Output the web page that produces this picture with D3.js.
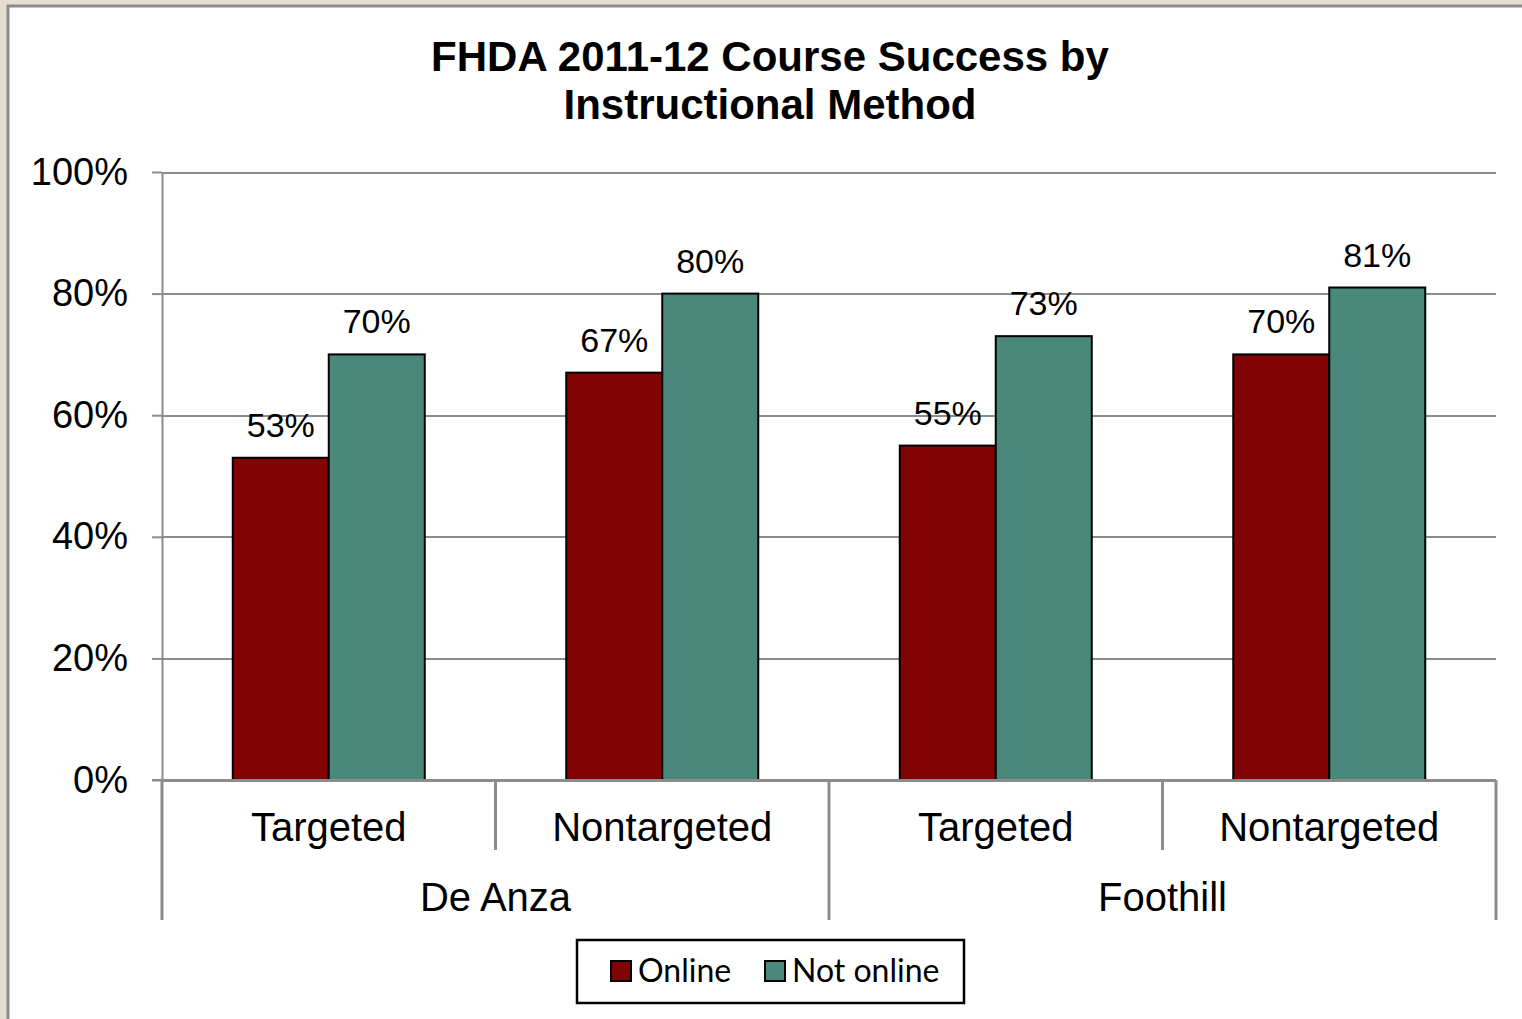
<!DOCTYPE html>
<meta charset="utf-8">
<style>
body { margin: 0; background: #e8ddd2; }
.grid line { stroke: #8c8c8c; stroke-width: 2px; shape-rendering: crispEdges; }
.grid path { stroke-width: 0; }
.yaxis path { stroke: #8c8c8c; stroke-width: 2px; }
.yaxis line { stroke: #8c8c8c; stroke-width: 2px; }
.yaxis text { font: 38px "Liberation Sans", Arial, sans-serif; fill: #000; }
.sep { stroke: #8c8c8c; stroke-width: 3px; }
.lab { font: 34px "Liberation Sans", Arial, sans-serif; fill: #000; }
.cat { font: 40px "Liberation Sans", Arial, sans-serif; fill: #000; }
</style>
<body>
<script src="https://d3js.org/d3.v7.min.js"></script>
<script>

// data
var colleges = ["De Anza", "Foothill"];
var methods = ["Targeted", "Nontargeted"];
var seriesNames = ["Online", "Not online"];
var online = [53, 67, 55, 70];
var notOnline = [70, 80, 73, 81];
var yTicks = [0, 20, 40, 60, 80, 100];
var colors = ["#820303", "#4a887c"];

var W = 1522, H = 1019;
var margin = {top: 172, left: 162, right: 26, bottom: 239};
var width = W - margin.left - margin.right,
    height = H - margin.top - margin.bottom;

var svg = d3.select("body").append("svg")
    .attr("width", W).attr("height", H)
    .style("display", "block");

// chart frame
svg.append("rect")
    .attr("x", 8).attr("y", 6).attr("width", W).attr("height", H)
    .attr("fill", "#fff").attr("stroke", "#8c8c8c").attr("stroke-width", 3);

// title
svg.append("text")
    .attr("x", 770).attr("text-anchor", "middle")
    .style("font", "bold 42px 'Liberation Sans', Arial, sans-serif")
    .selectAll("tspan")
    .data(["FHDA 2011-12 Course Success by", "Instructional Method"])
    .enter().append("tspan")
      .attr("x", 770)
      .attr("y", function(d, i) { return 71 + i * 48; })
      .text(function(d) { return d; });

var g = svg.append("g")
    .attr("transform", "translate(" + margin.left + "," + margin.top + ")");

// x: one band per college/method pair
var cats = [];
colleges.forEach(function(c) { methods.forEach(function(m) { cats.push(c + "|" + m); }); });

var x0 = d3.scaleBand().domain(cats).range([0, width]).paddingInner(0).paddingOuter(0);
var x1 = d3.scaleBand().domain(seriesNames).range([0, x0.bandwidth()]).paddingOuter(0.737).paddingInner(0);
var y = d3.scaleLinear().domain([0, 100]).range([height, 0]);

// gridlines
g.append("g")
    .attr("class", "grid")
    .call(d3.axisLeft(y).tickValues(yTicks).tickSize(-width).tickFormat(""));

// y axis
g.append("g")
    .attr("class", "yaxis")
    .call(d3.axisLeft(y).tickValues(yTicks).tickSize(10).tickSizeOuter(0).tickPadding(24)
        .tickFormat(function(d) { return d + "%"; }));

// bars
var rows = cats.map(function(c, i) { return {cat: c, vals: [online[i], notOnline[i]]}; });

var grp = g.selectAll(".bars")
    .data(rows)
  .enter().append("g")
    .attr("transform", function(d) { return "translate(" + x0(d.cat) + ",0)"; });

grp.selectAll("rect")
    .data(function(d) { return d.vals.map(function(v, j) { return {s: seriesNames[j], v: v, j: j}; }); })
  .enter().append("rect")
    .attr("x", function(d) { return x1(d.s); })
    .attr("y", function(d) { return y(d.v); })
    .attr("width", x1.bandwidth())
    .attr("height", function(d) { return height - y(d.v); })
    .attr("fill", function(d) { return colors[d.j]; })
    .attr("stroke", "#000")
    .attr("stroke-width", 2);

grp.selectAll(".lab")
    .data(function(d) { return d.vals.map(function(v, j) { return {s: seriesNames[j], v: v}; }); })
  .enter().append("text")
    .attr("class", "lab")
    .attr("x", function(d) { return x1(d.s) + x1.bandwidth() / 2; })
    .attr("y", function(d) { return y(d.v) - 21; })
    .attr("text-anchor", "middle")
    .text(function(d) { return d.v + "%"; });

// baseline
g.append("line")
    .attr("class", "sep")
    .attr("x1", -10).attr("x2", width).attr("y1", height).attr("y2", height)
    .style("stroke-width", 2);

// category separators
cats.forEach(function(c, i) {
  var xx = x0(c);
  g.append("line").attr("class", "sep")
      .attr("x1", xx).attr("x2", xx)
      .attr("y1", height).attr("y2", height + (i % methods.length == 0 ? 140 : 70));
});
g.append("line").attr("class", "sep")
    .attr("x1", width).attr("x2", width)
    .attr("y1", height).attr("y2", height + 140);

// method labels
g.selectAll(".cat1")
    .data(cats)
  .enter().append("text")
    .attr("class", "cat")
    .attr("x", function(d) { return x0(d) + x0.bandwidth() / 2; })
    .attr("y", height + 61)
    .attr("text-anchor", "middle")
    .text(function(d) { return d.split("|")[1]; });

// college labels
g.selectAll(".cat2")
    .data(colleges)
  .enter().append("text")
    .attr("class", "cat")
    .attr("x", function(d) { return x0(d + "|" + methods[0]) + x0.bandwidth(); })
    .attr("y", height + 131)
    .attr("text-anchor", "middle")
    .text(function(d) { return d; });

// legend
var leg = svg.append("g").attr("transform", "translate(577,940)");
leg.append("rect")
    .attr("width", 387).attr("height", 63)
    .attr("fill", "#fff").attr("stroke", "#000").attr("stroke-width", 2.5);

var legX = [34, 188];
seriesNames.forEach(function(s, i) {
  leg.append("rect")
      .attr("x", legX[i]).attr("y", 21).attr("width", 20).attr("height", 20)
      .attr("fill", colors[i]).attr("stroke", "#000").attr("stroke-width", 2);
  leg.append("text")
      .attr("x", legX[i] + 27).attr("y", 42)
      .style("font", "32px Lato, 'Noto Sans', sans-serif")
      .text(s);
});

</script>
</body>
